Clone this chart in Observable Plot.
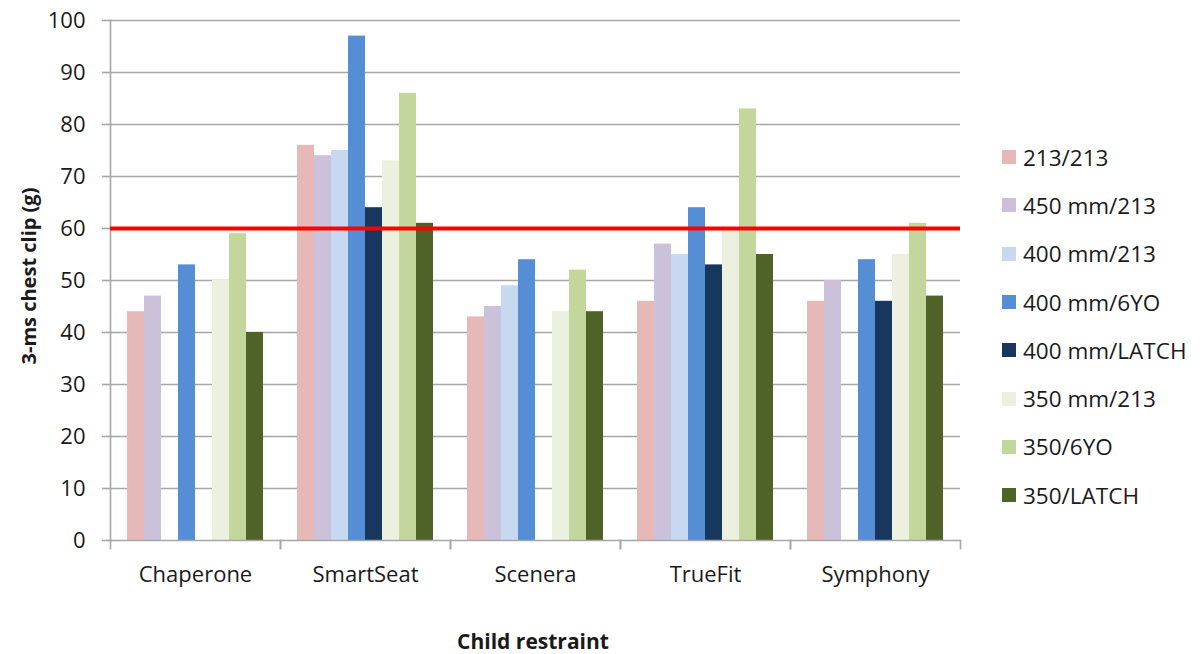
<!DOCTYPE html>
<html>
<head>
<meta charset="utf-8">
<script src="https://cdn.jsdelivr.net/npm/d3@7"></script>
<script src="https://cdn.jsdelivr.net/npm/@observablehq/plot@0.6"></script>
<style>
  html, body { margin: 0; padding: 0; background: #fff; }
  #wrap { position: relative; width: 1204px; height: 654px; font-family: "Open Sans", sans-serif; color: #1a1a1a; }
  #chart { position: absolute; left: 0; top: 0; }
  #ytitle { position: absolute; left: 28px; top: 276px; transform: translate(-50%, -50%) rotate(-90deg); font-weight: bold; font-size: 20px; white-space: nowrap; }
  #xtitle { position: absolute; left: 533px; top: 641px; transform: translate(-50%, -50%); font-weight: bold; font-size: 21px; white-space: nowrap; }
  #legend { position: absolute; left: 1002px; top: 133px; }
  .row { display: flex; align-items: center; height: 48.3px; font-size: 22.5px; white-space: nowrap; }
  .sw { width: 14px; height: 14px; margin-right: 7px; flex: none; }
</style>
</head>
<body>
<div id="wrap">
  <div id="chart"></div>
  <div id="ytitle">3-ms chest clip (g)</div>
  <div id="xtitle">Child restraint</div>
  <div id="legend"></div>
</div>
<script>
const groups = ["Chaperone", "SmartSeat", "Scenera", "TrueFit", "Symphony"];
const series = ["213/213", "450 mm/213", "400 mm/213", "400 mm/6YO", "400 mm/LATCH", "350 mm/213", "350/6YO", "350/LATCH"];
const colors = ["#e6b9b8", "#ccc1da", "#c6d9f1", "#558ed5", "#17375e", "#ebf1de", "#c3d69b", "#4f6228"];

const s213_213    = [44, 76, 43, 46, 46];
const s450mm_213  = [47, 74, 45, 57, 50];
const s400mm_213  = [null, 75, 49, 55, null];
const s400mm_6YO  = [53, 97, 54, 64, 54];
const s400mm_LATCH= [null, 64, null, 53, 46];
const s350mm_213  = [50, 73, 44, 60, 55];
const s350_6YO    = [59, 86, 52, 83, 61];
const s350_LATCH  = [40, 61, 44, 55, 47];
const threshold = [60];
const yTicks = [0, 10, 20, 30, 40, 50, 60, 70, 80, 90, 100];

const seriesValues = [s213_213, s450mm_213, s400mm_213, s400mm_6YO, s400mm_LATCH, s350mm_213, s350_6YO, s350_LATCH];
const rows = [];
groups.forEach((g, gi) => {
  series.forEach((s, si) => {
    const v = seriesValues[si][gi];
    if (v != null) rows.push({group: g, series: s, value: v});
  });
});

const W = 1204, H = 654, mT = 20, mB = 114, mL = 110, mR = 244;
const plotH = H - mT - mB;
const gray = "#a6a6a6";

const chart = Plot.plot({
  width: W, height: H,
  marginTop: mT, marginBottom: mB, marginLeft: mL, marginRight: mR,
  style: {fontFamily: "Open Sans, sans-serif", fontSize: "22px", color: "#1a1a1a", background: "transparent"},
  fx: {domain: groups, padding: 0, label: null},
  x: {domain: series, paddingInner: 0, paddingOuter: 0.74, axis: null},
  y: {domain: [0, 100], label: null},
  color: {domain: series, range: colors},
  marks: [
    Plot.gridY(yTicks.filter(d => d > 0), {stroke: gray, strokeOpacity: 1, strokeWidth: 1.4}),
    Plot.barY(rows, {fx: "group", x: "series", y: "value", fill: "series"}),
    Plot.ruleY([0], {stroke: gray, strokeWidth: 1.6}),
    Plot.frame({anchor: "left", stroke: gray, strokeWidth: 1.6, insetTop: plotH, insetBottom: -8}),
    Plot.frame({anchor: "right", stroke: gray, strokeWidth: 1.6, insetTop: plotH, insetBottom: -8}),
    Plot.frame({anchor: "left", stroke: gray, strokeWidth: 1.6, facetAnchor: "left"}),
    Plot.axisY({ticks: yTicks, tickSize: 8, tickPadding: 17, stroke: gray, strokeWidth: 1.6, label: null, fontSize: 22, fill: "#1a1a1a"}),
    Plot.axisFx({anchor: "bottom", tickSize: 0, tickPadding: 26, label: null, fontSize: 22, fill: "#1a1a1a"}),
    Plot.ruleY(threshold, {stroke: "#ff0000", strokeWidth: 3.8})
  ]
});
document.getElementById("chart").appendChild(chart);

const legend = document.getElementById("legend");
series.forEach((s, i) => {
  const row = document.createElement("div");
  row.className = "row";
  const sw = document.createElement("div");
  sw.className = "sw";
  sw.style.background = colors[i];
  const lab = document.createElement("span");
  lab.textContent = s;
  row.appendChild(sw);
  row.appendChild(lab);
  legend.appendChild(row);
});
</script>
</body>
</html>
